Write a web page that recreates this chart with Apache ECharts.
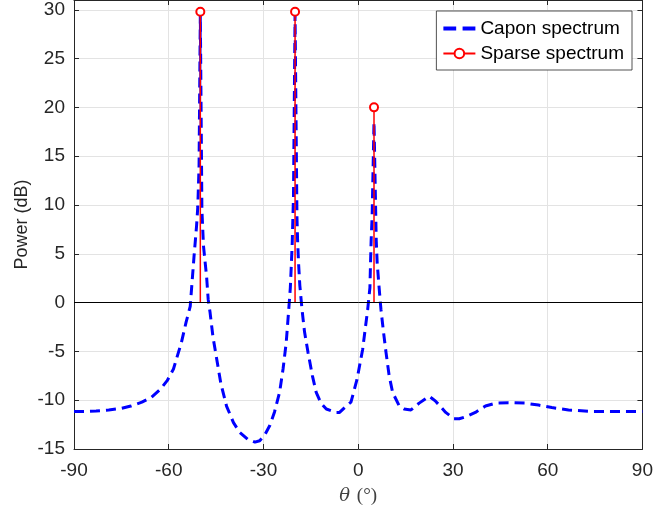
<!DOCTYPE html>
<html><head><meta charset="utf-8">
<script src="https://cdn.jsdelivr.net/npm/echarts@6/dist/echarts.min.js"></script>
<style>html,body{margin:0;padding:0;background:#fff}#c{width:656px;height:513px}</style>
</head><body><div id="c"></div>
<script>
// Capon spectrum (theta in degrees, power in dB)
const capTheta = [-90,-86,-83,-79,-75.3,-72,-68.5,-65.5,-62.7,-60.5,-58.5,-56,-54.5,-53.2,-52,-51.2,-50.8,-50.4,-50,
  -49.5,-49,-48,-47.5,-46.9,-46,-44.8,-43.5,-41.7,-39.5,-37.5,-35,-32.7,-31.2,-29.5,-28,-26.5,-24.9,-23.8,-22.8,
  -22.0,-21.5,-21.2,-20.9,-20.7,-20.5,-20,-19.4,-19.2,-18.9,-18.5,-17.8,-17.0,-15.9,-14.5,-13.3,-11.8,-10.1,-7,-5.9,
  -3.8,-2.3,-0.4,1.4,3.0,3.7,3.9,4.1,4.4,5,5.7,6.0,6.6,7.2,8.0,8.8,9.8,10.9,13.0,14.5,16.7,19.3,22.4,23.3,24.5,27.7,
  30.3,32,34,37.1,40.3,43.5,47.6,52.9,57.1,61.3,66.6,73.9,81.3,90];
const capPower = [-11.15,-11.15,-11.1,-11.0,-10.85,-10.6,-10.2,-9.7,-8.9,-8.0,-6.8,-4.1,-2.0,-0.4,4.7,7.8,9.8,14,29.5,
  9.5,5.8,2.6,0.3,-1.05,-3.5,-5.8,-8.3,-10.6,-12.3,-13.3,-14.0,-14.3,-14.15,-13.5,-12.6,-11.2,-9.2,-6.8,-4.1,
  -0.7,1.5,3.7,6.1,8.5,10.8,29.5,8.8,6.4,4.1,1.8,-0.7,-3,-5.1,-7.5,-9.2,-10.3,-10.9,-11.25,-11.25,
  -10.6,-10.2,-7.9,-4.8,-0.7,1.5,4.1,6.4,8.8,18.5,6.4,4.1,1.6,-0.7,-3,-5.1,-7.5,-9.2,-10.6,-10.9,-11.0,-10.3,-9.6,-9.8,-10.1,-11.25,
  -11.9,-11.9,-11.7,-11.25,-10.6,-10.3,-10.25,-10.3,-10.5,-10.75,-11.0,-11.15,-11.15,-11.15];
// Sparse spectrum stems
const sparseTheta = [-50, -20, 5];
const sparsePower = [29.8, 29.8, 20.0];
// Tick labels
const xTickVals = [-90, -60, -30, 0, 30, 60, 90];
const yTickVals = [-15, -10, -5, 0, 5, 10, 15, 20, 25, 30];

const FONT = "'Liberation Sans', Arial, sans-serif";
const TXT = '#262626';
const capData = capTheta.map((t, i) => [t, capPower[i]]);
const sparseData = [];
sparseTheta.forEach((t, i) => {
  sparseData.push({ value: [t, 0], symbol: 'none' });
  sparseData.push({ value: [t, sparsePower[i]] });
  if (i < sparseTheta.length - 1) sparseData.push('-');
});

const chart = echarts.init(document.getElementById('c'), null, { renderer: 'canvas' });
const axisCommon = {
  axisLine: { show: true, onZero: false, lineStyle: { color: TXT, width: 1 } },
  axisTick: { show: true, inside: true, length: 5, lineStyle: { color: TXT, width: 1 } },
};
chart.setOption({
  animation: false,
  backgroundColor: '#fff',
  grid: { left: 74, right: 12, top: -1, bottom: 64, containLabel: false },
  legend: {
    orient: 'vertical', right: 24, top: 11,
    backgroundColor: '#fff', borderColor: TXT, borderWidth: 0.8,
    padding: [8, 8, 7, 6], itemGap: 6, itemWidth: 32, itemHeight: 12,
    textStyle: { fontFamily: FONT, fontSize: 19, color: '#000' },
    data: [
      { name: 'Capon spectrum', icon: 'path://M0,0H10V3H0Z M15,0H25V3H15Z', itemStyle: { color: '#0000ff' } },
      { name: 'Sparse spectrum' }
    ]
  },
  xAxis: [{
    type: 'value', min: -90, max: 90, interval: 30, position: 'bottom',
    ...axisCommon,
    axisLabel: { fontFamily: FONT, fontSize: 19, color: TXT, margin: 12,
      formatter: v => xTickVals.includes(v) ? String(v) : '' },
    splitLine: { show: true, lineStyle: { color: '#e3e3e3', width: 1 } },
    name: '{t|θ}  {p|(°)}', nameLocation: 'middle', nameGap: 38, nameMoveOverlap: false,
    nameTextStyle: { rich: {
      t: { fontFamily: "'DejaVu Serif', 'Liberation Serif', serif", fontStyle: 'italic', fontSize: 18, color: '#404040' },
      p: { fontFamily: "'Liberation Serif', serif", fontSize: 19, color: '#404040' } } }
  }, {
    type: 'value', min: -90, max: 90, interval: 30, position: 'top',
    ...axisCommon, axisLabel: { show: false }, splitLine: { show: false }
  }],
  yAxis: [{
    type: 'value', min: -15, max: 31, interval: 5, position: 'left',
    ...axisCommon,
    axisLabel: { fontFamily: FONT, fontSize: 19, color: TXT, margin: 9,
      formatter: v => yTickVals.includes(v) ? String(v) : '' },
    splitLine: { show: true, lineStyle: { color: '#e3e3e3', width: 1 } },
    name: 'Power (dB)', nameLocation: 'middle', nameGap: 43, nameMoveOverlap: false,
    nameTextStyle: { fontFamily: FONT, fontSize: 18, color: TXT }
  }, {
    type: 'value', min: -15, max: 31, interval: 5, position: 'right',
    ...axisCommon, axisLabel: { show: false }, splitLine: { show: false }
  }],
  series: [{
    name: 'Capon spectrum', type: 'line', data: capData,
    symbol: 'none', smooth: false, z: 2,
    lineStyle: { color: '#0000ff', width: 3, type: [10, 6] },
    itemStyle: { color: '#0000ff' }
  }, {
    name: 'Sparse spectrum', type: 'line', data: sparseData,
    connectNulls: false, z: 3,
    symbol: 'emptyCircle', symbolSize: 8, showAllSymbol: true,
    lineStyle: { color: '#ff0000', width: 1.5 },
    itemStyle: { color: '#ff0000', borderColor: '#ff0000', borderWidth: 1.5 },
    markLine: {
      silent: true, symbol: 'none', label: { show: false },
      lineStyle: { color: '#000', width: 1, type: 'solid' },
      data: [{ yAxis: 0 }]
    }
  }]
});
</script>
</body></html>
